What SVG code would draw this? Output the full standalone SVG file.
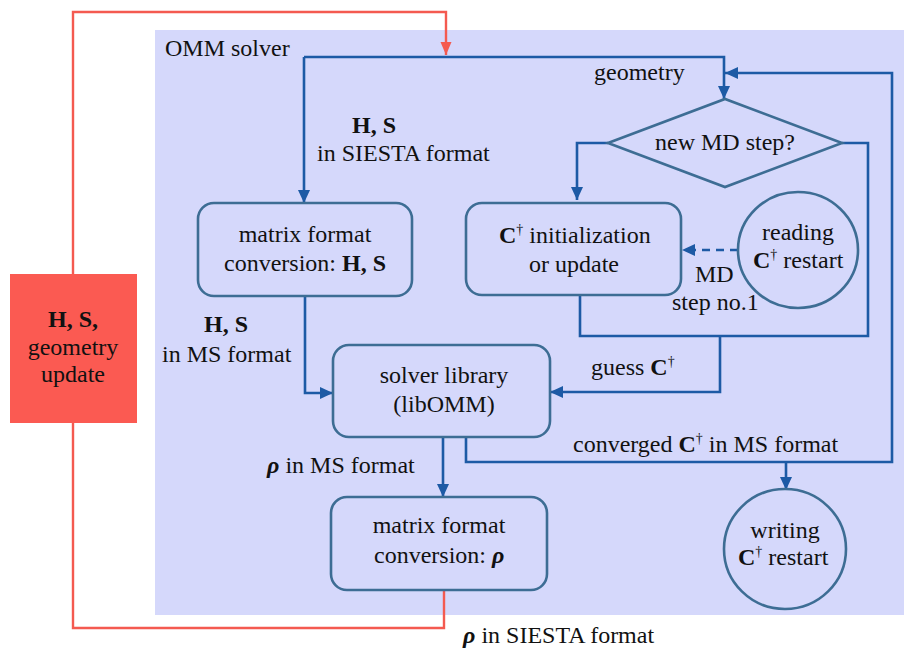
<svg xmlns="http://www.w3.org/2000/svg" width="904" height="648" viewBox="0 0 904 648">
<style>
.t{font-family:'Liberation Serif',serif;font-size:24px;fill:#111}
.b{font-weight:bold}
.rho{font-weight:bold;font-style:italic}
.box{fill:none;stroke:#3d6d94;stroke-width:2.6}
.c{fill:none;stroke:#1d5aa5;stroke-width:2.6}
.r{fill:none;stroke:#f45a50;stroke-width:2.4}
.d{font-size:14px}
</style>
<defs>
<marker id="ab" markerUnits="userSpaceOnUse" markerWidth="14" markerHeight="14" viewBox="0 0 14 14" refX="13" refY="7" orient="auto"><path d="M0,1 L13,7 L0,13 Z" fill="#1d5aa5"/></marker>
<marker id="ar" markerUnits="userSpaceOnUse" markerWidth="14" markerHeight="14" viewBox="0 0 14 14" refX="13" refY="7" orient="auto"><path d="M0,1.5 L13,7 L0,12.5 Z" fill="#f45a50"/></marker>
</defs>
<rect id="panel" x="155" y="30" width="749" height="585" fill="#d5d8fb"/>
<text class="t" font-family="Liberation Serif" font-size="24" x="165" y="56">OMM solver</text>

<g id="connectors">
<path class="c" d="M304,57 H724 V99" marker-end="url(#ab)"/>
<path class="c" d="M304,57 V203" marker-end="url(#ab)"/>
<path class="c" d="M466,438 V462 H892 V73 H725" marker-end="url(#ab)"/>
<path class="c" d="M786,462 V490" marker-end="url(#ab)"/>
<path class="c" d="M608,143 H577 V200" marker-end="url(#ab)"/>
<path class="c" d="M842,143 H868 V336 H580 V295"/>
<path class="c" d="M720,336 V392 H550" marker-end="url(#ab)"/>
<path class="c" d="M738,250 H682" stroke-dasharray="8,6" marker-end="url(#ab)"/>
<path class="c" d="M305,297 V393 H333" marker-end="url(#ab)"/>
<path class="c" d="M443,437 V497" marker-end="url(#ab)"/>
<path class="r" d="M73,274 V12 H446 V55" marker-end="url(#ar)"/>
<path class="r" d="M73,423 V628 H444 V590"/>
</g>

<g id="labels">
<text class="t b" font-family="Liberation Serif" font-size="24" x="352" y="133">H, S</text>
<text class="t" font-family="Liberation Serif" font-size="24" x="317" y="161">in SIESTA format</text>
<text class="t" font-family="Liberation Serif" font-size="24" x="594" y="80">geometry</text>
<text class="t" font-family="Liberation Serif" font-size="24" x="695" y="282">MD</text>
<text class="t" font-family="Liberation Serif" font-size="24" x="672" y="310">step no.1</text>
<text class="t" font-family="Liberation Serif" font-size="24" x="591" y="375">guess <tspan class="b">C</tspan><tspan class="d" dy="-9">†</tspan></text>
<text class="t" font-family="Liberation Serif" font-size="24" x="573" y="452">converged <tspan class="b">C</tspan><tspan class="d" dy="-9">†</tspan><tspan dy="9"> in MS format</tspan></text>
<text class="t b" font-family="Liberation Serif" font-size="24" x="204" y="332">H, S</text>
<text class="t" font-family="Liberation Serif" font-size="24" x="162" y="362">in MS format</text>
<text class="t" font-family="Liberation Serif" font-size="24" x="267" y="473"><tspan class="rho">ρ</tspan> in MS format</text>
<text class="t" font-family="Liberation Serif" font-size="24" x="463" y="643"><tspan class="rho">ρ</tspan> in SIESTA format</text>
</g>

<g id="n-update">
<rect x="10" y="274" width="127" height="149" fill="#fb5a52"/>
<text class="t b" font-family="Liberation Serif" font-size="24" x="73" y="327" text-anchor="middle">H, S,</text>
<text class="t" font-family="Liberation Serif" font-size="24" x="73" y="355" text-anchor="middle">geometry</text>
<text class="t" font-family="Liberation Serif" font-size="24" x="73" y="382" text-anchor="middle">update</text>
</g>

<g id="n-conv1">
<rect class="box" x="198" y="203" width="214" height="93" rx="16"/>
<text class="t" font-family="Liberation Serif" font-size="24" x="305" y="242" text-anchor="middle">matrix format</text>
<text class="t" font-family="Liberation Serif" font-size="24" x="305" y="271" text-anchor="middle">conversion: <tspan class="b">H, S</tspan></text>
</g>

<g id="n-decision">
<polygon class="box" points="608,143 725,99 842,143 725,187"/>
<text class="t" font-family="Liberation Serif" font-size="24" x="725" y="150" text-anchor="middle">new MD step?</text>
</g>

<g id="n-init">
<rect class="box" x="466" y="203" width="215" height="92" rx="16"/>
<text class="t" font-family="Liberation Serif" font-size="24" x="499" y="243"><tspan class="b">C</tspan><tspan class="d" dy="-9">†</tspan><tspan dy="9"> initialization</tspan></text>
<text class="t" font-family="Liberation Serif" font-size="24" x="574" y="272" text-anchor="middle">or update</text>
</g>

<g id="n-read">
<ellipse class="box" cx="798" cy="250" rx="60" ry="58"/>
<text class="t" font-family="Liberation Serif" font-size="24" x="798" y="240" text-anchor="middle">reading</text>
<text class="t" font-family="Liberation Serif" font-size="24" x="753" y="268"><tspan class="b">C</tspan><tspan class="d" dy="-9">†</tspan><tspan dy="9"> restart</tspan></text>
</g>

<g id="n-solver">
<rect class="box" x="333" y="345" width="217" height="92" rx="16"/>
<text class="t" font-family="Liberation Serif" font-size="24" x="444" y="383" text-anchor="middle">solver library</text>
<text class="t" font-family="Liberation Serif" font-size="24" x="444" y="412" text-anchor="middle">(libOMM)</text>
</g>

<g id="n-conv2">
<rect class="box" x="331" y="497" width="216" height="93" rx="16"/>
<text class="t" font-family="Liberation Serif" font-size="24" x="439" y="533" text-anchor="middle">matrix format</text>
<text class="t" font-family="Liberation Serif" font-size="24" x="374" y="563">conversion: <tspan class="rho">ρ</tspan></text>
</g>

<g id="n-write">
<ellipse class="box" cx="785" cy="549" rx="61" ry="60"/>
<text class="t" font-family="Liberation Serif" font-size="24" x="785" y="538" text-anchor="middle">writing</text>
<text class="t" font-family="Liberation Serif" font-size="24" x="738" y="565"><tspan class="b">C</tspan><tspan class="d" dy="-9">†</tspan><tspan dy="9"> restart</tspan></text>
</g>
</svg>
